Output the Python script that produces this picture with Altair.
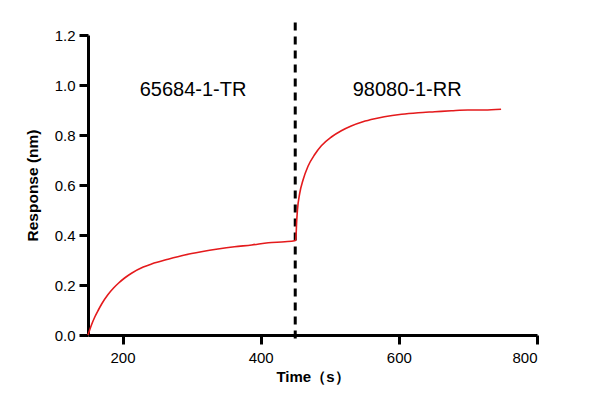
import altair as alt
import pandas as pd

# Response curve
time_s = [150, 155, 160, 165, 170, 179, 187, 194, 203, 213, 230, 242, 266, 290, 314, 338,
          362, 387, 411, 435, 449, 450.7, 452.2, 453.2, 456.5, 461.3, 468.5, 478.2, 487.8,
          502.3, 516.7, 531, 548, 565, 579, 604, 628, 652, 676, 700, 724, 748]
response = [0.0, 0.04, 0.073, 0.10, 0.125, 0.162, 0.188, 0.207, 0.228, 0.247, 0.272, 0.284,
            0.303, 0.32, 0.333, 0.344, 0.353, 0.36, 0.369, 0.373, 0.377, 0.38, 0.46, 0.50,
            0.567, 0.62, 0.675, 0.722, 0.757, 0.792, 0.817, 0.836, 0.853, 0.865, 0.873,
            0.883, 0.889, 0.893, 0.897, 0.9, 0.9, 0.903]

# Phase labels
label_text = ["65684-1-TR", "98080-1-RR"]
label_t = [302, 612]
label_v = [0.98, 0.98]

# Dashed divider
divider_t = [450]
divider_top = [1.25]
divider_bottom = [-0.032]

x_ticks = [200, 400, 600, 800]
y_ticks = [0.0, 0.2, 0.4, 0.6, 0.8, 1.0, 1.2]

curve = pd.DataFrame({"t": time_s, "v": response})
labels = pd.DataFrame({"t": label_t, "v": label_v, "text": label_text})
divider = pd.DataFrame({"t": divider_t, "top": divider_top, "bottom": divider_bottom})

FONT = "Liberation Sans"

x_scale = alt.Scale(domain=[150, 800], nice=False, zero=False)
y_scale = alt.Scale(domain=[0, 1.2], nice=False)

line = alt.Chart(curve).mark_line(color="#e41a1c", strokeWidth=1.6, interpolate="monotone").encode(
    x=alt.X("t:Q", scale=x_scale,
            axis=alt.Axis(title="Time（s）", values=x_ticks, format="d", grid=False,
                          domainWidth=3, domainColor="black", tickWidth=3, tickSize=9,
                          tickColor="black", labelFontSize=15, labelFont=FONT,
                          labelColor="black", labelPadding=6, titleFont=FONT,
                          titleFontSize=15, titleFontWeight="bold", titleColor="black",
                          titlePadding=4)),
    y=alt.Y("v:Q", scale=y_scale,
            axis=alt.Axis(title="Response (nm)", values=y_ticks, format=".1f", grid=False,
                          domainWidth=3, domainColor="black", tickWidth=3, tickSize=9,
                          tickColor="black", labelFontSize=15, labelFont=FONT,
                          labelColor="black", labelPadding=4, titleFont=FONT,
                          titleFontSize=15.5, titleFontWeight="bold", titleColor="black",
                          titlePadding=14)),
)

rule = alt.Chart(divider).mark_rule(color="black", strokeWidth=3, strokeDash=[8, 6],
                                    clip=False).encode(
    x=alt.X("t:Q", scale=x_scale),
    y=alt.Y("top:Q", scale=y_scale),
    y2="bottom:Q",
)

text = alt.Chart(labels).mark_text(fontSize=20, font=FONT, color="black").encode(
    x=alt.X("t:Q", scale=x_scale),
    y=alt.Y("v:Q", scale=y_scale),
    text="text:N",
)

chart = alt.layer(rule, line, text).properties(
    width=449, height=300,
    autosize=alt.AutoSizeParams(type="none"),
    padding={"left": 80, "top": 27, "right": 40, "bottom": 62},
    background="white",
).configure_view(stroke=None, strokeWidth=0)

chart.save("out.html", embed_options={"renderer": "svg", "actions": False})
